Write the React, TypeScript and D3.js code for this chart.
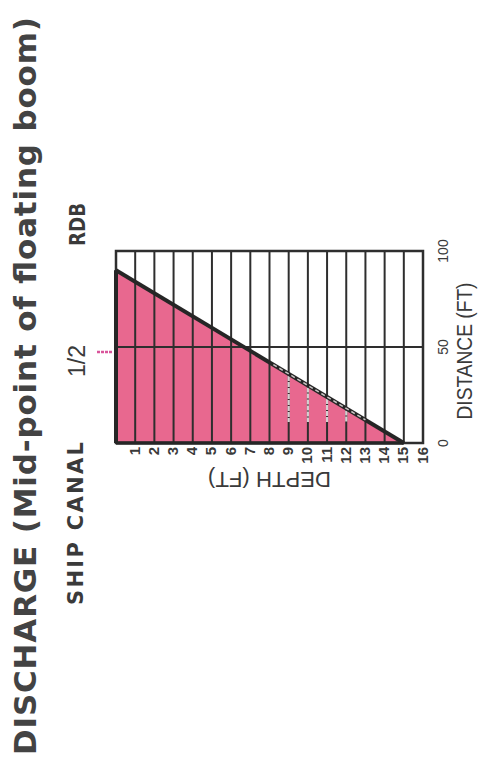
import React from "react";
import * as d3 from "d3";

const W = 481;
const H = 759;

// Data
const depthTicks = [1, 2, 3, 4, 5, 6, 7, 8, 9, 10, 11, 12, 13, 14, 15, 16];
const distanceTicks = [0, 50, 100];
const profileDepth = [0, 0, 15];
const profileDistance = [0, 90, 0];
const fadedDepths = [9, 10, 11, 12];

const title = "DISCHARGE (Mid-point of floating boom)";
const siteLabel = "SHIP CANAL";
const fractionLabel = "1/2";
const bankLabel = "RDB";
const depthTitle = "DEPTH (FT)";
const distTitle = "DISTANCE (FT)";

export default function App() {
  const x = d3.scaleLinear().domain([0, 16]).range([116, 423]);
  const y = d3.scaleLinear().domain([0, 100]).range([443, 251]);

  const pts: [number, number][] = profileDepth.map((d, i) => [x(d), y(profileDistance[i])]);
  const area = d3.line()(pts.concat([pts[0]])) as string;
  const slope = d3.line()([pts[1], pts[2]]) as string;
  const distAt = (d: number) => 90 - (90 / 15) * d;

  const gridColor = "#2e2e2e";
  const pink = "#e8688f";
  const textColor = "#3a3a3a";
  const heavy = "'DejaVu Sans', 'Liberation Sans', sans-serif";

  return (
    <svg
      width={W}
      height={H}
      style={{ position: "absolute", left: 0, top: 0, background: "#fff" }}
      fontFamily="'Liberation Sans', Arial, sans-serif"
    >
      {/* Title */}
      <text
        transform="translate(36,755) rotate(-90)"
        fontSize={31}
        fontWeight="bold"
        fontFamily={heavy}
        fill="#434343"
        textLength={738}
        lengthAdjust="spacing"
      >
        {title}
      </text>
      <text
        transform="translate(83,605) rotate(-90)"
        fontSize={21}
        fontWeight="bold"
        fontFamily={heavy}
        fill={textColor}
        textLength={163}
        lengthAdjust="spacing"
      >
        {siteLabel}
      </text>
      <text transform="translate(85,377) rotate(-90)" fontSize={23} fill={textColor}>
        {fractionLabel}
      </text>
      <text
        transform="translate(85,246) rotate(-90)"
        fontSize={21}
        fontWeight="bold"
        fontFamily={heavy}
        fill={textColor}
        textLength={43}
        lengthAdjust="spacingAndGlyphs"
      >
        {bankLabel}
      </text>

      {/* Pink marker */}
      <line x1={97} x2={113} y1={y(50) + 5} y2={y(50) + 5} stroke="#d9559b" strokeWidth={2.5} strokeDasharray="3 1" />

      {/* Fill */}
      <path d={area} fill={pink} />

      {/* Grid */}
      {depthTicks.slice(0, 15).map((d) => (
        <line key={"v" + d} x1={x(d)} x2={x(d)} y1={y(100)} y2={y(0)} stroke={gridColor} strokeWidth={2} />
      ))}
      {fadedDepths.map((d) => (
        <line
          key={"f" + d}
          x1={x(d)}
          x2={x(d)}
          y1={y(distAt(d)) + 2}
          y2={y(11)}
          stroke="#d6cfd1"
          strokeWidth={2.2}
          strokeDasharray="5 1"
        />
      ))}
      <line x1={x(0)} x2={x(16)} y1={y(50)} y2={y(50)} stroke={gridColor} strokeWidth={2} />
      <rect x={x(0)} y={y(100)} width={x(16) - x(0)} height={y(0) - y(100)} fill="none" stroke={gridColor} strokeWidth={2.5} />
      <line x1={x(0)} x2={x(0)} y1={y(0)} y2={y(90)} stroke="#262626" strokeWidth={4} />
      <line x1={x(0)} x2={x(15)} y1={y(0)} y2={y(0)} stroke="#262626" strokeWidth={3.5} />

      {/* Slope */}
      <path d={slope} stroke="#262626" strokeWidth={4} fill="none" />
      <path
        d={d3.line()([[x(8.2), y(distAt(8.2))], [x(13), y(distAt(13))]]) as string}
        stroke="#c9c4c4"
        strokeWidth={1.5}
        strokeDasharray="4 3"
        fill="none"
      />

      {/* Depth tick labels */}
      {depthTicks.map((d) => (
        <text
          key={"dt" + d}
          transform={`translate(${x(d) - 1},${y(0) + 4}) rotate(-90)`}
          fontSize={15}
          fontWeight="bold"
          fill={textColor}
          textAnchor="end"
          dominantBaseline="central"
        >
          {d}
        </text>
      ))}
      <text
        transform={`translate(${(x(0) + x(16)) / 2},472) rotate(180)`}
        fontSize={22}
        fill={textColor}
        textAnchor="middle"
        textLength={123}
        lengthAdjust="spacingAndGlyphs"
      >
        {depthTitle}
      </text>

      {/* Distance tick labels */}
      {distanceTicks.map((v) => (
        <text
          key={"ds" + v}
          transform={`translate(448,${y(v)}) rotate(-90)`}
          fontSize={14}
          fill={textColor}
          textAnchor="middle"
        >
          {v}
        </text>
      ))}
      <text
        transform="translate(472,351) rotate(-90)"
        fontSize={22}
        fill={textColor}
        textAnchor="middle"
        textLength={137}
        lengthAdjust="spacingAndGlyphs"
      >
        {distTitle}
      </text>
    </svg>
  );
}
